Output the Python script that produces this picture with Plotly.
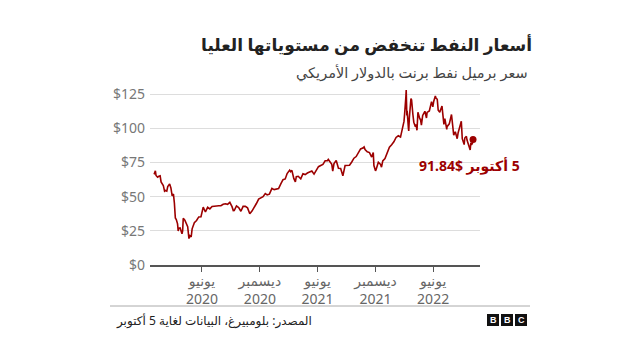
import plotly.graph_objects as go

dates = [
    "2020-01-02","2020-01-06","2020-01-08","2020-01-13","2020-01-17","2020-01-21","2020-01-24","2020-01-28","2020-01-31",
    "2020-02-04","2020-02-07","2020-02-11","2020-02-14","2020-02-20","2020-02-24","2020-02-28","2020-03-03","2020-03-06",
    "2020-03-09","2020-03-12","2020-03-16","2020-03-18","2020-03-20","2020-03-24","2020-03-27","2020-03-30","2020-04-01",
    "2020-04-03","2020-04-08","2020-04-14","2020-04-17","2020-04-21","2020-04-24","2020-04-28","2020-05-01","2020-05-08",
    "2020-05-15","2020-05-22","2020-05-29","2020-06-05","2020-06-12","2020-06-19","2020-06-26","2020-07-03","2020-07-10",
    "2020-07-17","2020-07-24","2020-07-31","2020-08-07","2020-08-14","2020-08-21","2020-08-28","2020-09-04","2020-09-08",
    "2020-09-11","2020-09-18","2020-09-25","2020-10-02","2020-10-09","2020-10-16","2020-10-23","2020-10-30","2020-11-06",
    "2020-11-13","2020-11-20","2020-11-27","2020-12-04","2020-12-11","2020-12-18","2020-12-24","2020-12-31",
    "2021-01-08","2021-01-15","2021-01-22","2021-01-29","2021-02-05","2021-02-12","2021-02-19","2021-02-25","2021-03-05",
    "2021-03-08","2021-03-12","2021-03-18","2021-03-23","2021-03-26","2021-04-01","2021-04-09","2021-04-16","2021-04-23",
    "2021-04-30","2021-05-07","2021-05-14","2021-05-21","2021-05-28","2021-06-04","2021-06-11","2021-06-18","2021-06-25",
    "2021-07-02","2021-07-05","2021-07-09","2021-07-16","2021-07-19","2021-07-23","2021-07-30","2021-08-06","2021-08-13",
    "2021-08-20","2021-08-27","2021-09-03","2021-09-10","2021-09-17","2021-09-24","2021-10-01","2021-10-08","2021-10-15",
    "2021-10-22","2021-10-26","2021-10-29","2021-11-05","2021-11-12","2021-11-19","2021-11-24","2021-11-26","2021-12-01",
    "2021-12-03","2021-12-10","2021-12-17","2021-12-20","2021-12-24","2021-12-31",
    "2022-01-07","2022-01-14","2022-01-21","2022-01-28","2022-02-04","2022-02-11","2022-02-18","2022-02-24","2022-03-01",
    "2022-03-03","2022-03-04","2022-03-07","2022-03-08","2022-03-09","2022-03-10","2022-03-11","2022-03-15","2022-03-16",
    "2022-03-18","2022-03-23","2022-03-25","2022-03-29","2022-04-01","2022-04-06","2022-04-08","2022-04-11","2022-04-14",
    "2022-04-20","2022-04-22","2022-04-25","2022-04-29","2022-05-06","2022-05-11","2022-05-13","2022-05-17","2022-05-20",
    "2022-05-27","2022-05-31","2022-06-03","2022-06-08","2022-06-10","2022-06-14","2022-06-17","2022-06-22","2022-06-24",
    "2022-06-29","2022-07-01","2022-07-05","2022-07-08","2022-07-12","2022-07-14","2022-07-15","2022-07-22","2022-07-29",
    "2022-08-03","2022-08-05","2022-08-10","2022-08-16","2022-08-19","2022-08-24","2022-08-29","2022-09-01","2022-09-07",
    "2022-09-09","2022-09-14","2022-09-16","2022-09-23","2022-09-26","2022-09-28","2022-09-30","2022-10-03","2022-10-05",
]
prices = [
    66.25,68.91,65.44,64.20,64.85,65.20,60.69,59.51,58.16,
    53.96,54.47,54.01,57.32,59.31,56.30,50.52,51.86,45.27,
    34.36,33.22,30.05,24.88,26.98,27.15,24.93,22.76,24.74,
    34.11,32.84,29.60,28.08,19.33,21.44,20.46,26.44,30.97,
    32.50,35.13,35.33,42.30,38.73,42.19,41.02,42.80,43.24,
    43.14,43.34,43.30,44.40,44.80,44.35,45.81,42.66,39.78,
    39.83,43.15,41.92,39.27,42.85,42.93,41.77,37.46,39.45,
    42.78,44.96,48.18,49.25,49.97,52.26,51.29,51.80,
    55.99,55.10,55.41,55.88,59.34,62.43,62.91,66.88,69.36,
    68.24,69.22,63.28,60.79,64.57,64.86,62.95,66.77,66.11,
    67.25,68.28,68.71,66.44,69.63,71.89,72.69,73.51,76.18,
    76.17,77.16,75.55,73.59,68.62,74.10,76.33,70.70,70.59,
    65.18,72.70,72.61,72.92,75.34,78.09,79.28,82.39,84.86,
    85.53,86.40,84.38,82.74,82.17,78.89,82.25,72.72,68.87,
    69.88,75.15,73.52,71.52,76.14,77.78,
    81.75,86.06,87.89,90.03,93.27,94.44,93.54,99.08,104.97,
    110.46,118.11,123.21,127.98,111.14,109.33,112.67,99.91,98.02,
    107.93,121.60,120.65,110.23,104.39,101.07,102.78,98.48,111.70,
    106.80,106.65,102.32,109.34,112.39,107.51,111.55,111.93,112.55,
    119.43,115.60,119.72,123.58,122.01,121.17,113.12,111.74,113.12,
    116.26,111.63,102.77,107.02,99.49,99.10,101.16,103.20,110.01,
    96.78,94.92,97.40,92.34,96.72,101.22,105.09,92.36,88.00,
    92.84,94.10,91.35,86.15,84.06,89.32,87.96,88.86,91.84,
]

tick_dates = ["2020-06-01", "2020-12-01", "2021-06-01", "2021-12-01", "2022-06-01"]
tick_labels = ["يونيو<br>2020", "ديسمبر<br>2020", "يونيو<br>2021", "ديسمبر<br>2021", "يونيو<br>2022"]
y_ticks = [0, 25, 50, 75, 100, 125]
y_tick_labels = ["$0", "$25", "$50", "$75", "$100", "$125"]

title = "أسعار النفط تنخفض من مستوياتها العليا"
subtitle = "سعر برميل نفط برنت بالدولار الأمريكي"
end_label = "\u202B5 أكتوبر $91.84\u202C"
source = "\u202Bالمصدر: بلومبيرغ، البيانات لغاية 5 أكتوبر\u202C"

RED = "#9c0000"
FONT = "Noto Sans, DejaVu Sans, sans-serif"

# page body has an 8px margin; plot area target in window pixels
OFF = 8
L, R, T, B = 150, 480, 88, 265
def px(x):
    return (x - L) / (R - L)
def py(y):
    return (B - y) / (B - T)

fig = go.Figure()
fig.add_trace(go.Scatter(x=dates, y=prices, mode="lines",
                         line=dict(color=RED, width=1.6), hoverinfo="skip"))
fig.add_trace(go.Scatter(x=[dates[-1]], y=[prices[-1]], mode="markers",
                         marker=dict(color=RED, size=7), hoverinfo="skip"))

fig.update_layout(
    width=640 - OFF, height=360 - OFF,
    margin=dict(l=L - OFF, r=640 - R, t=T - OFF, b=360 - B),
    paper_bgcolor="white", plot_bgcolor="white",
    showlegend=False,
    font=dict(family=FONT, color="#666"),
    xaxis=dict(type="date", range=["2019-12-20", "2022-10-27"],
               tickvals=tick_dates, ticktext=tick_labels,
               ticks="outside", ticklen=5, tickcolor="#555", tickwidth=1,
               showline=True, linecolor="#555", linewidth=1.5,
               showgrid=False, zeroline=False, ticklabelstandoff=-3,
               tickfont=dict(size=14, color="#666")),
    yaxis=dict(range=[0, 129.4], tickvals=y_ticks, ticktext=y_tick_labels,
               showgrid=True, gridcolor="#dddddd", gridwidth=1,
               zeroline=False, showline=False, ticks="",
               tickfont=dict(size=14, color="#777"), ticklabelstandoff=4),
)

ann = [
    dict(text="<b>" + title + "</b>", x=px(534), y=py(45), xanchor="right", yanchor="middle",
         font=dict(size=17, color="#222", family=FONT)),
    dict(text=subtitle, x=px(530), y=py(72), xanchor="right", yanchor="middle",
         font=dict(size=14.5, color="#444", family=FONT)),
    dict(text="<b>" + end_label + "</b>", x=px(522), y=py(165), xanchor="right", yanchor="middle",
         font=dict(size=14, color=RED, family=FONT)),
    dict(text=source, x=px(114), y=py(320), xanchor="left", yanchor="middle",
         font=dict(size=12, color="#222", family=FONT)),
]
for i, letter in enumerate(["B", "B", "C"]):
    x0 = 487 + i * 14
    fig.add_shape(type="rect", xref="paper", yref="paper",
                  x0=px(x0), x1=px(x0 + 12), y0=py(326), y1=py(314),
                  fillcolor="#111", line=dict(width=0))
    ann.append(dict(text="<b>" + letter + "</b>", x=px(x0 + 6), y=py(320),
                    xanchor="center", yanchor="middle",
                    font=dict(size=9, color="white", family="Liberation Sans, Arial, sans-serif")))
for a in ann:
    a.update(xref="paper", yref="paper", showarrow=False)
fig.update_layout(annotations=ann)

fig.add_shape(type="line", xref="paper", yref="paper",
              x0=px(110), x1=px(530), y0=py(306), y1=py(306),
              line=dict(color="#aaa", width=1))

fig.write_html("out.html")
